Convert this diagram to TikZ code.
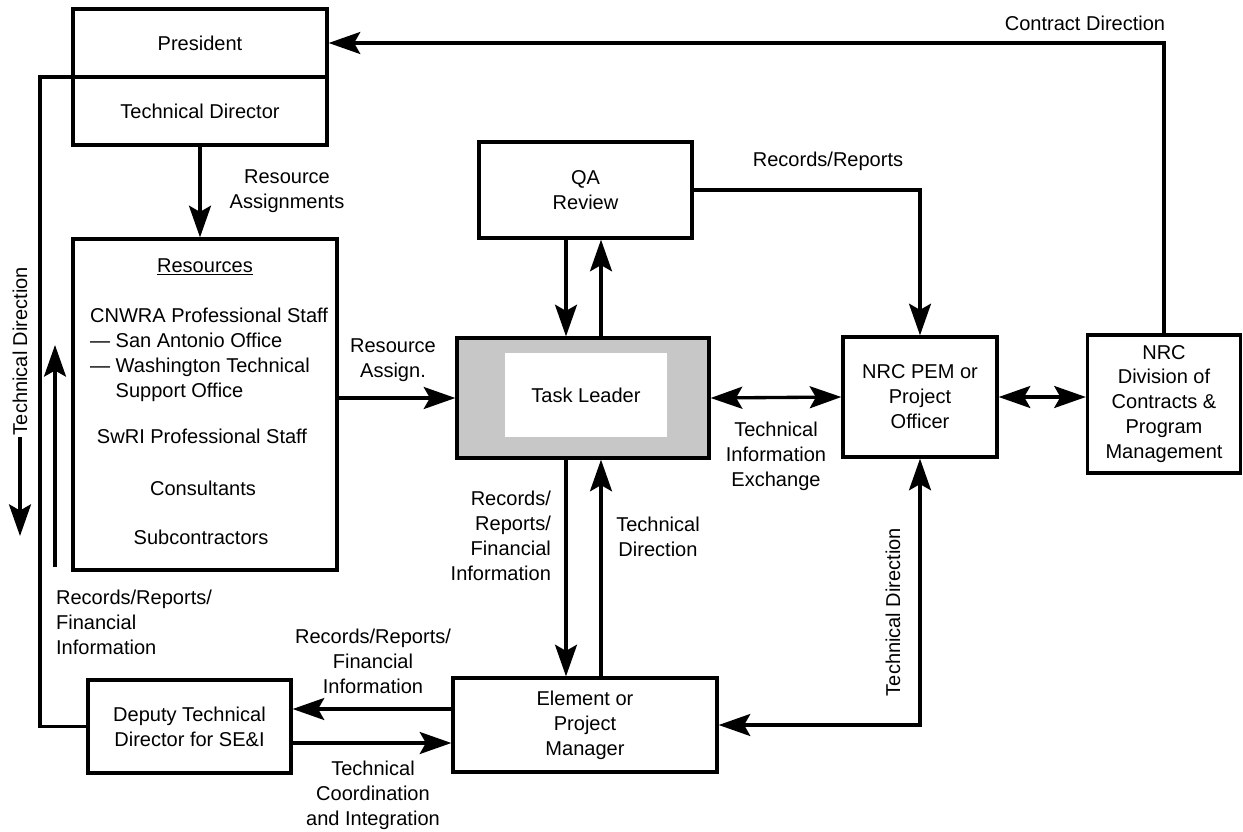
\documentclass[tikz,border=0pt]{standalone}
\usepackage{fontspec}
\setmainfont{Liberation Sans}
\usetikzlibrary{arrows.meta}

\tikzset{
  box/.style={draw, line width=1.9pt, inner sep=2pt, align=center},
  lbl/.style={align=center, inner sep=1pt},
  conn/.style={line width=1.9pt, line join=miter},
  arr/.style={conn, -{Stealth[length=18pt,width=12.5pt,inset=3.5pt]}},
  dbl/.style={conn, {Stealth[length=18pt,width=12.5pt,inset=3.5pt]}-{Stealth[length=18pt,width=12.5pt,inset=3.5pt]}},
}

\begin{document}
\begin{tikzpicture}[x=0.02cm, y=-0.02cm, font=\fontsize{11.4}{14.2}\selectfont]
\useasboundingbox (0,0) rectangle (1243,831);
\node[box, minimum width=5.08cm, minimum height=1.36cm] (president) at (200,43) {President};
\node[box, minimum width=5.08cm, minimum height=1.36cm] (techdir) at (200,111) {Technical Director};
\node[box, minimum width=5.28cm, minimum height=6.62cm] (resources) at (205,404.5) {};
\node[lbl] (restitle) at (205,267) {\underline{Resources}};
\node[lbl, align=left, anchor=west] (cnwra) at (88,354.5) {CNWRA Professional Staff\\— San Antonio Office\\— Washington Technical\\\phantom{— }Support Office};
\node[lbl] (swri) at (202,436) {SwRI Professional Staff};
\node[lbl] (consult) at (203,488) {Consultants};
\node[lbl] (subcon) at (201,537) {Subcontractors};
\node[box, fill=black!22, minimum width=5.04cm, minimum height=2.4cm] (tl) at (583,398) {};
\node[fill=white, minimum width=3.24cm, minimum height=1.68cm] (tlin) at (586,395) {Task Leader};
\node[box, minimum width=4.26cm, minimum height=1.92cm] (qa) at (585.5,190) {QA\\Review};
\node[box, minimum width=3.08cm, minimum height=2.4cm] (pem) at (920,397) {NRC PEM or\\Project\\Officer};
\node[box, minimum width=3.06cm, minimum height=2.76cm] (nrc) at (1164,404) {NRC\\Division of\\Contracts \&\\Program\\Management};
\node[box, minimum width=5.28cm, minimum height=1.88cm] (epm) at (585,725) {Element or\\Project\\Manager};
\node[box, minimum width=4.06cm, minimum height=1.86cm] (deputy) at (189.5,726.5) {Deputy Technical\\Director for SE\&I};

\coordinate (dnx) at (566,0);
\coordinate (upx) at (601,0);
\coordinate (ry) at (0,709);
\coordinate (ty) at (0,743);
\coordinate (tdcorner) at (40,77);
\coordinate (tdend) at (20,536);
\coordinate (rrbot) at (55,567);
\coordinate (rrtop) at (55,345);

\draw[arr] (techdir.south) -- (techdir.south |- resources.north);
\draw[arr] (nrc.north) |- (president.east);
\draw[conn] (tdcorner -| techdir.west) -- (tdcorner) |- (deputy.west);
\draw[arr] (rrbot) -- (rrtop);
\draw[arr] (resources.east |- tl.west) -- (tl.west);
\draw[arr] (qa.south -| dnx) -- (tl.north -| dnx);
\draw[arr] (tl.north -| upx) -- (qa.south -| upx);
\draw[arr] (tl.south -| dnx) -- (epm.north -| dnx);
\draw[arr] (epm.north -| upx) -- (tl.south -| upx);
\draw[arr] (qa.east) -| (pem.north);
\draw[dbl] (tl.east) -- (pem.west);
\draw[dbl] (pem.east) -- (nrc.west |- pem.east);
\draw[dbl] (epm.east) -| (pem.south);
\draw[arr] (epm.west |- ry) -- (deputy.east |- ry);
\draw[arr] (deputy.east |- ty) -- (epm.west |- ty);

\node[lbl, rotate=90] (tdlbl) at (20,351) {Technical Direction};
\draw[arr] (tdlbl.west) -- (tdend);
\node[lbl] (resassign) at (287,191) {Resource\\Assignments};
\node[lbl] (resassgn) at (393,360.5) {Resource\\Assign.};
\node[lbl] (qarep) at (828,161) {Records/Reports};
\node[lbl] (contract) at (1085,23) {Contract Direction};
\node[lbl] (tie) at (776,456) {Technical\\Information\\Exchange};
\node[lbl, align=right, anchor=east] (tlrec) at (553,535.5) {Records/\\Reports/\\Financial\\Information};
\node[lbl] (tltd) at (658,536.5) {Technical\\Direction};
\node[lbl, rotate=90] (pemtd) at (893,612) {Technical Direction};
\node[lbl, align=left, anchor=west] (leftrec) at (54,622) {Records/Reports/\\Financial\\Information};
\node[lbl] (deprec) at (373,661) {Records/Reports/\\Financial\\Information};
\node[lbl] (tci) at (373,795) {Technical\\Coordination\\and Integration};
\end{tikzpicture}
\end{document}
